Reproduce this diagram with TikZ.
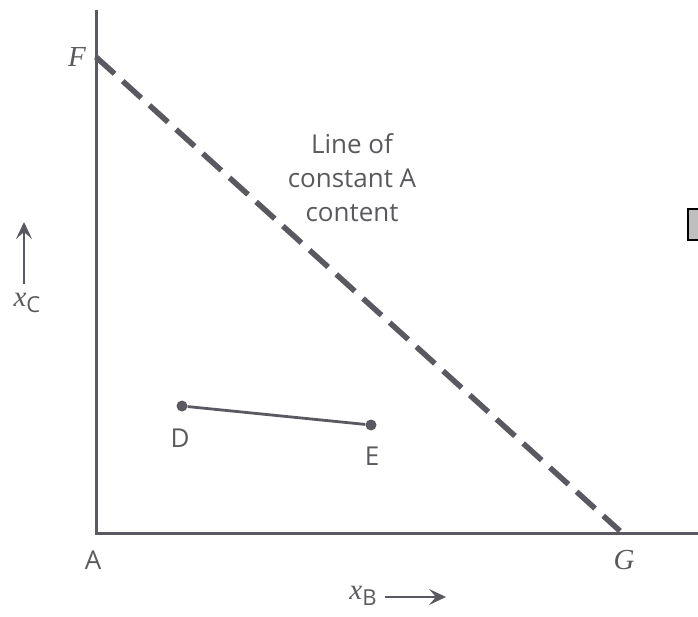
\documentclass[tikz,border=0pt]{standalone}
\usepackage{fontspec}
\setmainfont{Liberation Serif}
\setsansfont{Open Sans}
\usetikzlibrary{arrows.meta}
\definecolor{ink}{HTML}{5C5862}
\definecolor{txt}{HTML}{5A5A5E}
\begin{document}
\begin{tikzpicture}[x=1pt,y=-1pt,
  axis/.style={draw=ink,line width=3pt},
  dashline/.style={draw=ink,line width=5.5pt,dash pattern=on 25pt off 11pt},
  seg/.style={draw=ink,line width=2.8pt},
  dot/.style={circle,fill=ink,inner sep=0pt,minimum size=11pt},
  lab/.style={text=txt,font=\fontsize{26}{34}\selectfont\sffamily,inner sep=0pt},
  ital/.style={text=txt,font=\fontsize{29}{32}\selectfont\itshape,inner sep=0pt},
  varr/.style={draw=ink,line width=2.2pt,-{Stealth[length=17pt,width=16pt,inset=7pt]}}]
\useasboundingbox (0,0) rectangle (698,617);
\coordinate (top) at (96,10);
\coordinate (A) at (96,533);
\coordinate (right) at (698,533);
\coordinate (F) at (96,57);
\coordinate (G) at (620,531);
\draw[axis] (top) -- (A) -- (right);
\draw[dashline] (F) -- (G);
\node[ital] (Flab) at (77,57) {F};
\node[ital] (Glab) at (624,560) {G};
\node[lab] (Alab) at (93,560) {A};
\node[dot] (D) at (182,406) {};
\node[dot] (E) at (371,425) {};
\draw[seg] (D) -- (E);
\node[lab] (Dlab) at (180,438) {D};
\node[lab] (Elab) at (372,456) {E};
\node[lab,align=center] (note) at (352,178) {Line of\\constant A\\content};
\node[text=txt,inner sep=0pt] (xc) at (27,303) {{\fontsize{29}{32}\selectfont\itshape x}\raisebox{-6pt}{\fontsize{22}{24}\selectfont\sffamily C}};
\coordinate (xc0) at (24,284);
\coordinate (xc1) at (24,222);
\draw[varr] (xc0) -- (xc1);
\node[text=txt,inner sep=0pt] (xb) at (363,596) {{\fontsize{29}{32}\selectfont\itshape x}\raisebox{-6pt}{\fontsize{22}{24}\selectfont\sffamily B}};
\coordinate (xb0) at (385,597);
\coordinate (xb1) at (446,597);
\draw[varr] (xb0) -- (xb1);
\coordinate (b0) at (688,209);
\coordinate (b1) at (704,240);
\draw[fill=black!25,draw=black,line width=2pt] (b0) rectangle (b1);
\end{tikzpicture}
\end{document}
